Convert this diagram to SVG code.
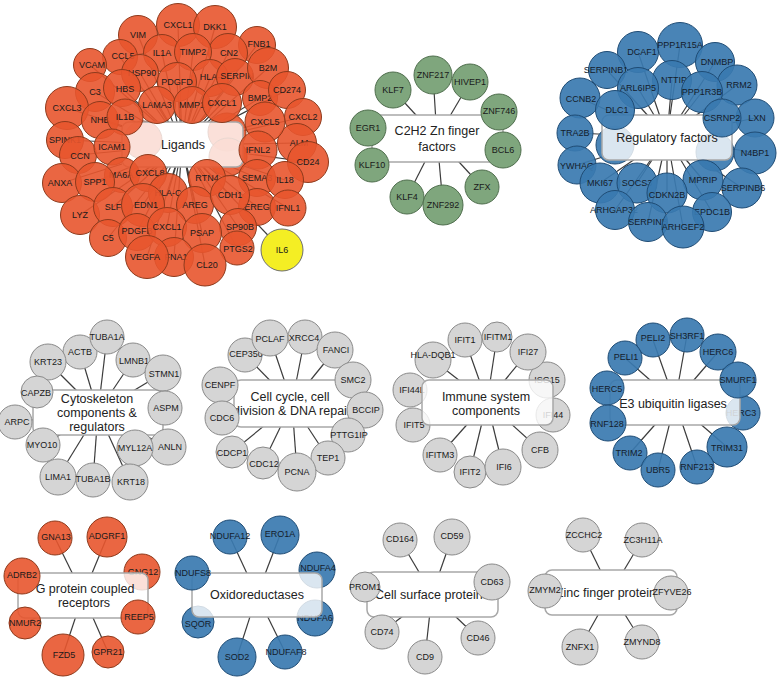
<svg xmlns="http://www.w3.org/2000/svg" width="783" height="681" viewBox="0 0 783 681">
<style>
text{font-family:"Liberation Sans",Arial,sans-serif;text-anchor:middle;dominant-baseline:central;fill:#1a1a1a;font-size:9px}
.o circle{fill:#E8552D;fill-opacity:.9;stroke:#8E3A1C;stroke-width:1}
.g circle{fill:#7FA67D;stroke:#4F6E4D;stroke-width:1}
.b circle{fill:#3A79B0;fill-opacity:.92;stroke:#1F4C75;stroke-width:1}
.b text{fill:#14202c}
.w circle{fill:#D5D5D5;stroke:#8A8A8A;stroke-width:1}
.y circle{fill:#F4EE24;stroke:#6f6f6f;stroke-width:1}
.hub rect{fill:#fff;fill-opacity:.8;stroke:#a8a8a8;stroke-width:1.5}
.hub text{font-size:12.5px;fill:#222}
#edges line{stroke:#3c3c3c;stroke-width:1.2}
</style>
<defs>
<mask id="hm" maskUnits="userSpaceOnUse" x="0" y="0" width="783" height="681">
<rect x="0" y="0" width="783" height="681" fill="#fff"/>
<rect x="122" y="122" width="121" height="45" fill="#000"/>
<rect x="372" y="115" width="131" height="47" fill="#000"/>
<rect x="602" y="115" width="130" height="45" fill="#000"/>
<rect x="33" y="390" width="130" height="45" fill="#000"/>
<rect x="234" y="380" width="120" height="47" fill="#000"/>
<rect x="422" y="380" width="131" height="45" fill="#000"/>
<rect x="610" y="380" width="130" height="45" fill="#000"/>
<rect x="18" y="573" width="130" height="45" fill="#000"/>
<rect x="192" y="573" width="130" height="44" fill="#000"/>
<rect x="367" y="572" width="131" height="45" fill="#000"/>
<rect x="545" y="570" width="132" height="45" fill="#000"/>
</mask>
</defs>
<rect width="783" height="681" fill="#fff"/>
<g id="edges" mask="url(#hm)">
<line x1="182" y1="145" x2="138" y2="35"/><line x1="182" y1="145" x2="178" y2="25"/><line x1="182" y1="145" x2="215" y2="27"/><line x1="182" y1="145" x2="120" y2="57"/><line x1="182" y1="145" x2="162" y2="53"/><line x1="182" y1="145" x2="193" y2="52"/><line x1="182" y1="145" x2="228" y2="53"/><line x1="182" y1="145" x2="257" y2="45"/><line x1="182" y1="145" x2="90" y2="65"/><line x1="182" y1="145" x2="140" y2="73"/><line x1="182" y1="145" x2="177" y2="82"/><line x1="182" y1="145" x2="210" y2="78"/><line x1="182" y1="145" x2="235" y2="77"/><line x1="182" y1="145" x2="268" y2="68"/><line x1="182" y1="145" x2="95" y2="92"/><line x1="182" y1="145" x2="122" y2="88"/><line x1="182" y1="145" x2="157" y2="105"/><line x1="182" y1="145" x2="192" y2="105"/><line x1="182" y1="145" x2="222" y2="103"/><line x1="182" y1="145" x2="260" y2="98"/><line x1="182" y1="145" x2="287" y2="90"/><line x1="182" y1="145" x2="303" y2="117"/><line x1="182" y1="145" x2="265" y2="122"/><line x1="182" y1="145" x2="67" y2="108"/><line x1="182" y1="145" x2="100" y2="120"/><line x1="182" y1="145" x2="125" y2="117"/><line x1="182" y1="145" x2="297" y2="143"/><line x1="182" y1="145" x2="258" y2="150"/><line x1="182" y1="145" x2="308" y2="162"/><line x1="182" y1="145" x2="65" y2="140"/><line x1="182" y1="145" x2="112" y2="147"/><line x1="182" y1="145" x2="78" y2="155"/><line x1="182" y1="145" x2="62" y2="183"/><line x1="182" y1="145" x2="95" y2="182"/><line x1="182" y1="145" x2="122" y2="175"/><line x1="182" y1="145" x2="147" y2="173"/><line x1="182" y1="145" x2="168" y2="193"/><line x1="182" y1="145" x2="207" y2="178"/><line x1="182" y1="145" x2="257" y2="178"/><line x1="182" y1="145" x2="285" y2="180"/><line x1="182" y1="145" x2="80" y2="215"/><line x1="182" y1="145" x2="113" y2="207"/><line x1="182" y1="145" x2="143" y2="205"/><line x1="182" y1="145" x2="230" y2="195"/><line x1="182" y1="145" x2="195" y2="205"/><line x1="182" y1="145" x2="257" y2="207"/><line x1="182" y1="145" x2="288" y2="208"/><line x1="182" y1="145" x2="108" y2="238"/><line x1="182" y1="145" x2="137" y2="232"/><line x1="182" y1="145" x2="167" y2="227"/><line x1="182" y1="145" x2="202" y2="233"/><line x1="182" y1="145" x2="238" y2="227"/><line x1="182" y1="145" x2="147" y2="257"/><line x1="182" y1="145" x2="174" y2="257"/><line x1="182" y1="145" x2="205" y2="265"/><line x1="182" y1="145" x2="237" y2="248"/><line x1="182" y1="145" x2="282" y2="250"/>
<line x1="437" y1="138" x2="393" y2="90"/><line x1="437" y1="138" x2="433" y2="75"/><line x1="437" y1="138" x2="470" y2="82"/><line x1="437" y1="138" x2="499" y2="112"/><line x1="437" y1="138" x2="503" y2="150"/><line x1="437" y1="138" x2="482" y2="187"/><line x1="437" y1="138" x2="443" y2="205"/><line x1="437" y1="138" x2="407" y2="197"/><line x1="437" y1="138" x2="372" y2="165"/><line x1="437" y1="138" x2="368" y2="128"/>
<line x1="667" y1="137" x2="638" y2="52"/><line x1="667" y1="137" x2="680" y2="45"/><line x1="667" y1="137" x2="715" y2="62"/><line x1="667" y1="137" x2="607" y2="70"/><line x1="667" y1="137" x2="638" y2="88"/><line x1="667" y1="137" x2="672" y2="80"/><line x1="667" y1="137" x2="702" y2="92"/><line x1="667" y1="137" x2="737" y2="85"/><line x1="667" y1="137" x2="580" y2="98"/><line x1="667" y1="137" x2="615" y2="110"/><line x1="667" y1="137" x2="722" y2="118"/><line x1="667" y1="137" x2="755" y2="118"/><line x1="667" y1="137" x2="575" y2="133"/><line x1="667" y1="137" x2="755" y2="153"/><line x1="667" y1="137" x2="577" y2="165"/><line x1="667" y1="137" x2="600" y2="183"/><line x1="667" y1="137" x2="637" y2="183"/><line x1="667" y1="137" x2="667" y2="193"/><line x1="667" y1="137" x2="703" y2="180"/><line x1="667" y1="137" x2="742" y2="188"/><line x1="667" y1="137" x2="615" y2="210"/><line x1="667" y1="137" x2="712" y2="212"/><line x1="667" y1="137" x2="648" y2="222"/><line x1="667" y1="137" x2="683" y2="227"/>
<line x1="98" y1="412" x2="107" y2="337"/><line x1="98" y1="412" x2="80" y2="352"/><line x1="98" y1="412" x2="133" y2="360"/><line x1="98" y1="412" x2="48" y2="362"/><line x1="98" y1="412" x2="163" y2="373"/><line x1="98" y1="412" x2="37" y2="392"/><line x1="98" y1="412" x2="165" y2="408"/><line x1="98" y1="412" x2="15" y2="422"/><line x1="98" y1="412" x2="43" y2="445"/><line x1="98" y1="412" x2="135" y2="448"/><line x1="98" y1="412" x2="168" y2="447"/><line x1="98" y1="412" x2="58" y2="477"/><line x1="98" y1="412" x2="93" y2="480"/><line x1="98" y1="412" x2="130" y2="482"/>
<line x1="292" y1="403" x2="270" y2="338"/><line x1="292" y1="403" x2="305" y2="337"/><line x1="292" y1="403" x2="335" y2="350"/><line x1="292" y1="403" x2="245" y2="355"/><line x1="292" y1="403" x2="353" y2="380"/><line x1="292" y1="403" x2="220" y2="385"/><line x1="292" y1="403" x2="365" y2="410"/><line x1="292" y1="403" x2="222" y2="418"/><line x1="292" y1="403" x2="348" y2="435"/><line x1="292" y1="403" x2="232" y2="452"/><line x1="292" y1="403" x2="328" y2="458"/><line x1="292" y1="403" x2="263" y2="463"/><line x1="292" y1="403" x2="297" y2="472"/>
<line x1="487" y1="402" x2="465" y2="340"/><line x1="487" y1="402" x2="497" y2="337"/><line x1="487" y1="402" x2="528" y2="352"/><line x1="487" y1="402" x2="433" y2="360"/><line x1="487" y1="402" x2="547" y2="380"/><line x1="487" y1="402" x2="410" y2="390"/><line x1="487" y1="402" x2="553" y2="415"/><line x1="487" y1="402" x2="413" y2="425"/><line x1="487" y1="402" x2="540" y2="450"/><line x1="487" y1="402" x2="440" y2="455"/><line x1="487" y1="402" x2="503" y2="467"/><line x1="487" y1="402" x2="470" y2="472"/>
<line x1="675" y1="402" x2="653" y2="340"/><line x1="675" y1="402" x2="687" y2="335"/><line x1="675" y1="402" x2="718" y2="352"/><line x1="675" y1="402" x2="625" y2="358"/><line x1="675" y1="402" x2="738" y2="380"/><line x1="675" y1="402" x2="607" y2="388"/><line x1="675" y1="402" x2="743" y2="413"/><line x1="675" y1="402" x2="608" y2="423"/><line x1="675" y1="402" x2="727" y2="447"/><line x1="675" y1="402" x2="630" y2="453"/><line x1="675" y1="402" x2="658" y2="470"/><line x1="675" y1="402" x2="697" y2="467"/>
<line x1="83" y1="595" x2="55" y2="538"/><line x1="83" y1="595" x2="107" y2="537"/><line x1="83" y1="595" x2="22" y2="576"/><line x1="83" y1="595" x2="142" y2="572"/><line x1="83" y1="595" x2="25" y2="623"/><line x1="83" y1="595" x2="138" y2="617"/><line x1="83" y1="595" x2="63" y2="655"/><line x1="83" y1="595" x2="108" y2="652"/>
<line x1="257" y1="595" x2="230" y2="537"/><line x1="257" y1="595" x2="280" y2="535"/><line x1="257" y1="595" x2="192" y2="573"/><line x1="257" y1="595" x2="317" y2="570"/><line x1="257" y1="595" x2="198" y2="622"/><line x1="257" y1="595" x2="315" y2="618"/><line x1="257" y1="595" x2="237" y2="657"/><line x1="257" y1="595" x2="285" y2="652"/>
<line x1="432" y1="594" x2="400" y2="540"/><line x1="432" y1="594" x2="452" y2="537"/><line x1="432" y1="594" x2="365" y2="587"/><line x1="432" y1="594" x2="492" y2="582"/><line x1="432" y1="594" x2="382" y2="632"/><line x1="432" y1="594" x2="478" y2="638"/><line x1="432" y1="594" x2="425" y2="657"/>
<line x1="611" y1="592" x2="583" y2="535"/><line x1="611" y1="592" x2="642" y2="540"/><line x1="611" y1="592" x2="544" y2="591"/><line x1="611" y1="592" x2="670" y2="593"/><line x1="611" y1="592" x2="580" y2="647"/><line x1="611" y1="592" x2="642" y2="642"/>
</g>

<g id="n-lig-h1" class="o"><circle cx="143" cy="140" r="19"/></g>
<g id="n-lig-h2" class="o"><circle cx="227" cy="132" r="19"/></g>
<g id="n-lig-h3" class="o"><circle cx="228" cy="157" r="19"/></g>
<g id="n-reg-h1" class="b"><circle cx="615" cy="145" r="19"/></g>
<g id="n-reg-h2" class="b"><circle cx="715" cy="152" r="19"/></g>
<g id="n-ISG15" class="w"><circle cx="547" cy="380" r="18"/><text x="547" y="380" font-size="10">ISG15</text></g>
<g id="n-IFI44L" class="w"><circle cx="410" cy="390" r="17"/><text x="412" y="390" font-size="10">IFI44L</text></g>
<g id="n-IFI44" class="w"><circle cx="553" cy="415" r="17"/><text x="553" y="415" font-size="10">IFI44</text></g>
<g id="n-IFIT5" class="w"><circle cx="413" cy="425" r="17"/><text x="414" y="425" font-size="10">IFIT5</text></g>
<g id="n-HERC3" class="b"><circle cx="743" cy="413" r="17"/><text x="741" y="413" font-size="10">HERC3</text></g>
<g id="n-GNG12" class="o"><circle cx="142" cy="572" r="18"/><text x="143" y="572" font-size="10">GNG12</text></g>
<g id="n-NDUFA4" class="b"><circle cx="317" cy="570" r="18"/><text x="318" y="568" font-size="10">NDUFA4</text></g>
<g id="n-NDUFA6" class="b"><circle cx="315" cy="618" r="18"/><text x="315" y="618" font-size="9.5">NDUFA6</text></g>
<g id="n-SQOR" class="b"><circle cx="198" cy="622" r="16"/><text x="198" y="624" font-size="8.5">SQOR</text></g>

<g id="hub-ligands" class="hub"><rect x="122" y="122" width="121" height="45" rx="7"/><text x="183" y="145">Ligands</text></g>
<g id="hub-c2h2" class="hub"><rect x="372" y="115" width="131" height="47" rx="7"/><text x="437" y="131">C2H2 Zn finger</text><text x="437" y="147">factors</text></g>
<g id="hub-regulatory" class="hub"><rect x="602" y="115" width="130" height="45" rx="7"/><text x="667" y="138">Regulatory factors</text></g>
<g id="hub-cytoskeleton" class="hub"><rect x="33" y="390" width="130" height="45" rx="7"/><text x="97" y="399">Cytoskeleton</text><text x="97" y="413">components &amp;</text><text x="97" y="427">regulators</text></g>
<g id="hub-cellcycle" class="hub"><rect x="234" y="380" width="120" height="47" rx="7"/><text x="290" y="397">Cell cycle, cell</text><text x="292" y="411">division &amp; DNA repair</text></g>
<g id="hub-immune" class="hub"><rect x="422" y="380" width="131" height="45" rx="7"/><text x="486" y="397">Immune system</text><text x="486" y="411">components</text></g>
<g id="hub-e3" class="hub"><rect x="610" y="380" width="130" height="45" rx="7"/><text x="673" y="404">E3 ubiquitin ligases</text></g>
<g id="hub-gpcr" class="hub"><rect x="18" y="573" width="130" height="45" rx="7"/><text x="85" y="589">G protein coupled</text><text x="84" y="603">receptors</text></g>
<g id="hub-oxido" class="hub"><rect x="192" y="573" width="130" height="44" rx="7"/><text x="257" y="595">Oxidoreductases</text></g>
<g id="hub-surface" class="hub"><rect x="367" y="572" width="131" height="45" rx="7"/><text x="432" y="595">Cell surface proteins</text></g>
<g id="hub-zinc" class="hub"><rect x="545" y="570" width="132" height="45" rx="7"/><text x="609" y="593" font-size="12px">Zinc finger proteins</text></g>

<g id="n-VIM" class="o"><circle cx="138" cy="35" r="19.5"/><text x="138" y="35" font-size="10">VIM</text></g>
<g id="n-CXCL1a" class="o"><circle cx="178" cy="25" r="21.5"/><text x="178" y="25" font-size="10">CXCL1</text></g>
<g id="n-DKK1" class="o"><circle cx="215" cy="27" r="21.5"/><text x="215" y="27" font-size="10">DKK1</text></g>
<g id="n-FNB1" class="o"><circle cx="257" cy="45" r="18.5"/><text x="259" y="44" font-size="8.5">FNB1</text></g>
<g id="n-CCL5" class="o"><circle cx="120" cy="57" r="17.5"/><text x="123" y="56" font-size="8.5">CCL5</text></g>
<g id="n-VCAM" class="o"><circle cx="90" cy="65" r="16.5"/><text x="92" y="65" font-size="8">VCAM</text></g>
<g id="n-IL1A" class="o"><circle cx="162" cy="53" r="18.5"/><text x="162" y="53" font-size="9">IL1A</text></g>
<g id="n-CN2" class="o"><circle cx="228" cy="53" r="19.5"/><text x="229" y="53" font-size="9.5">CN2</text></g>
<g id="n-TIMP2" class="o"><circle cx="193" cy="52" r="18.5"/><text x="193" y="52" font-size="9">TIMP2</text></g>
<g id="n-HSP90" class="o"><circle cx="140" cy="73" r="18.5"/><text x="142" y="73" font-size="9">HSP90</text></g>
<g id="n-HLA" class="o"><circle cx="210" cy="78" r="18.5"/><text x="210" y="77" font-size="9.5">HLA-</text></g>
<g id="n-SERPIN" class="o"><circle cx="235" cy="77" r="18.5"/><text x="237" y="76" font-size="9.5">SERPIN</text></g>
<g id="n-B2M" class="o"><circle cx="268" cy="68" r="20.5"/><text x="268" y="68" font-size="10">B2M</text></g>
<g id="n-PDGFD" class="o"><circle cx="177" cy="82" r="19.5"/><text x="177" y="82" font-size="10">PDGFD</text></g>
<g id="n-C3" class="o"><circle cx="95" cy="92" r="19.5"/><text x="95" y="92" font-size="10">C3</text></g>
<g id="n-HBS" class="o"><circle cx="122" cy="88" r="18.5"/><text x="125" y="89" font-size="9.5">HBS</text></g>
<g id="n-LAMA3" class="o"><circle cx="157" cy="105" r="18.5"/><text x="157" y="105" font-size="9">LAMA3</text></g>
<g id="n-MMP1" class="o"><circle cx="192" cy="105" r="18.5"/><text x="192" y="105" font-size="9">MMP1</text></g>
<g id="n-CXCL1b" class="o"><circle cx="222" cy="103" r="19.5"/><text x="222" y="103" font-size="10">CXCL1</text></g>
<g id="n-BMP2" class="o"><circle cx="260" cy="98" r="17.5"/><text x="260" y="98" font-size="8.5">BMP2</text></g>
<g id="n-CD274" class="o"><circle cx="287" cy="90" r="18.5"/><text x="287" y="90" font-size="8.5">CD274</text></g>
<g id="n-CXCL2" class="o"><circle cx="303" cy="117" r="18.5"/><text x="303" y="117" font-size="9.5">CXCL2</text></g>
<g id="n-CXCL3" class="o"><circle cx="67" cy="108" r="21.5"/><text x="67" y="108" font-size="10">CXCL3</text></g>
<g id="n-NHB" class="o"><circle cx="100" cy="120" r="18.5"/><text x="100" y="120" font-size="9.5">NHB</text></g>
<g id="n-IL1B" class="o"><circle cx="125" cy="117" r="18"/><text x="125" y="117" font-size="9">IL1B</text></g>
<g id="n-ALM" class="o"><circle cx="297" cy="143" r="19.5"/><text x="299" y="143" font-size="9.5">ALM</text></g>
<g id="n-CXCL5" class="o"><circle cx="265" cy="122" r="20"/><text x="265" y="122" font-size="10">CXCL5</text></g>
<g id="n-CD24" class="o"><circle cx="308" cy="162" r="20.5"/><text x="308" y="162" font-size="10">CD24</text></g>
<g id="n-IFNL2" class="o"><circle cx="258" cy="150" r="19"/><text x="258" y="150" font-size="10">IFNL2</text></g>
<g id="n-SPINK1" class="o"><circle cx="65" cy="140" r="18.5"/><text x="65" y="140" font-size="8">SPINK1</text></g>
<g id="n-CCN" class="o"><circle cx="78" cy="155" r="18.5"/><text x="80" y="156" font-size="9.5">CCN</text></g>
<g id="n-ICAM1" class="o"><circle cx="112" cy="147" r="18"/><text x="112" y="147" font-size="9">ICAM1</text></g>
<g id="n-ANXA" class="o"><circle cx="62" cy="183" r="19.5"/><text x="60" y="183" font-size="10">ANXA</text></g>
<g id="n-MA6A" class="o"><circle cx="122" cy="175" r="17.5"/><text x="121" y="175" font-size="8">MA6A</text></g>
<g id="n-CXCL8" class="o"><circle cx="148" cy="173" r="18.5"/><text x="150" y="173" font-size="9">CXCL8</text></g>
<g id="n-SPP1" class="o"><circle cx="95" cy="182" r="19.5"/><text x="95" y="182" font-size="9.5">SPP1</text></g>
<g id="n-HLA-C" class="o"><circle cx="168" cy="193" r="19.5"/><text x="168" y="193" font-size="9">HLA-C</text></g>
<g id="n-RTN4" class="o"><circle cx="207" cy="178" r="18.5"/><text x="207" y="178" font-size="9">RTN4</text></g>
<g id="n-SEMA3" class="o"><circle cx="257" cy="178" r="18.5"/><text x="257" y="178" font-size="8.5">SEMA3</text></g>
<g id="n-IL18" class="o"><circle cx="285" cy="180" r="18.5"/><text x="285" y="180" font-size="9">IL18</text></g>
<g id="n-AREG" class="o"><circle cx="195" cy="205" r="18.5"/><text x="195" y="205" font-size="9">AREG</text></g>
<g id="n-EREG" class="o"><circle cx="257" cy="207" r="18.5"/><text x="257" y="207" font-size="8.5">EREG</text></g>
<g id="n-IFNL1" class="o"><circle cx="288" cy="208" r="18"/><text x="288" y="208" font-size="8">IFNL1</text></g>
<g id="n-CDH1" class="o"><circle cx="230" cy="195" r="19.5"/><text x="230" y="195" font-size="9.5">CDH1</text></g>
<g id="n-LYZ" class="o"><circle cx="80" cy="215" r="19.5"/><text x="80" y="215" font-size="10">LYZ</text></g>
<g id="n-SLF" class="o"><circle cx="113" cy="207" r="19.5"/><text x="113" y="207" font-size="10">SLF</text></g>
<g id="n-EDN1" class="o"><circle cx="143" cy="205" r="21.5"/><text x="146" y="205" font-size="10.5">EDN1</text></g>
<g id="n-C5" class="o"><circle cx="108" cy="238" r="18.5"/><text x="108" y="238" font-size="9.5">C5</text></g>
<g id="n-PDGFB" class="o"><circle cx="137" cy="232" r="18.5"/><text x="137" y="231" font-size="9">PDGFB</text></g>
<g id="n-CXCL1c" class="o"><circle cx="167" cy="227" r="19.5"/><text x="167" y="227" font-size="9">CXCL1</text></g>
<g id="n-SP90B" class="o"><circle cx="238" cy="227" r="18.5"/><text x="240" y="227" font-size="8.5">SP90B</text></g>
<g id="n-PSAP" class="o"><circle cx="202" cy="233" r="19.5"/><text x="202" y="233" font-size="9.5">PSAP</text></g>
<g id="n-PTGS2" class="o"><circle cx="237" cy="248" r="17"/><text x="238" y="249" font-size="8">PTGS2</text></g>
<g id="n-FNA1" class="o"><circle cx="174" cy="257" r="19.5"/><text x="176" y="257" font-size="9.5">FNA1</text></g>
<g id="n-VEGFA" class="o"><circle cx="147" cy="257" r="21.5"/><text x="145" y="257" font-size="10">VEGFA</text></g>
<g id="n-CL20" class="o"><circle cx="205" cy="265" r="21"/><text x="207" y="265" font-size="10">CL20</text></g>
<g id="n-IL6" class="y"><circle cx="282" cy="250" r="21"/><text x="282" y="250" font-size="10">IL6</text></g>

<g id="n-KLF7" class="g"><circle cx="393" cy="90" r="18"/><text x="393" y="90" font-size="9.5">KLF7</text></g>
<g id="n-ZNF217" class="g"><circle cx="433" cy="75" r="19"/><text x="433" y="75" font-size="9.5">ZNF217</text></g>
<g id="n-HIVEP1" class="g"><circle cx="470" cy="82" r="18"/><text x="470" y="82" font-size="9">HIVEP1</text></g>
<g id="n-ZNF746" class="g"><circle cx="499" cy="112" r="18"/><text x="499" y="111" font-size="9.5">ZNF746</text></g>
<g id="n-BCL6" class="g"><circle cx="503" cy="150" r="18"/><text x="503" y="150" font-size="9.5">BCL6</text></g>
<g id="n-ZFX" class="g"><circle cx="482" cy="187" r="17"/><text x="482" y="187" font-size="9.5">ZFX</text></g>
<g id="n-KLF4" class="g"><circle cx="407" cy="197" r="17"/><text x="407" y="197" font-size="9">KLF4</text></g>
<g id="n-ZNF292" class="g"><circle cx="443" cy="205" r="20"/><text x="443" y="205" font-size="10.5">ZNF292</text></g>
<g id="n-KLF10" class="g"><circle cx="372" cy="165" r="17"/><text x="372" y="165" font-size="9.5">KLF10</text></g>
<g id="n-EGR1" class="g"><circle cx="368" cy="128" r="18"/><text x="368" y="128" font-size="9.5">EGR1</text></g>

<g id="n-DCAF1" class="b"><circle cx="638" cy="52" r="20.5"/><text x="642" y="52" font-size="11">DCAF1</text></g>
<g id="n-PPP1R15A" class="b"><circle cx="680" cy="45" r="22.5"/><text x="680" y="45" font-size="10.5">PPP1R15A</text></g>
<g id="n-DNMBP" class="b"><circle cx="715" cy="62" r="19.5"/><text x="717" y="62" font-size="9">DNMBP</text></g>
<g id="n-SERPINB1" class="b"><circle cx="607" cy="70" r="18.5"/><text x="606" y="70" font-size="8">SERPINB1</text></g>
<g id="n-NTTIP" class="b"><circle cx="672" cy="80" r="19.5"/><text x="674" y="80" font-size="9.5">NTTIP</text></g>
<g id="n-ARL6IP5" class="b"><circle cx="638" cy="88" r="20.5"/><text x="638" y="88" font-size="10">ARL6IP5</text></g>
<g id="n-RRM2" class="b"><circle cx="737" cy="85" r="20"/><text x="739" y="85" font-size="10">RRM2</text></g>
<g id="n-PPP1R3B" class="b"><circle cx="702" cy="92" r="20.5"/><text x="702" y="92" font-size="10">PPP1R3B</text></g>
<g id="n-CCNB2" class="b"><circle cx="580" cy="98" r="20"/><text x="581" y="99" font-size="10">CCNB2</text></g>
<g id="n-DLC1" class="b"><circle cx="615" cy="110" r="19.5"/><text x="617" y="110" font-size="9.5">DLC1</text></g>
<g id="n-LXN" class="b"><circle cx="755" cy="118" r="19"/><text x="757" y="118" font-size="10">LXN</text></g>
<g id="n-CSRNP2" class="b"><circle cx="722" cy="118" r="19"/><text x="722" y="118" font-size="9">CSRNP2</text></g>
<g id="n-TRA2B" class="b"><circle cx="575" cy="133" r="18"/><text x="575" y="133" font-size="9">TRA2B</text></g>
<g id="n-N4BP1" class="b"><circle cx="755" cy="153" r="21"/><text x="755" y="153" font-size="11">N4BP1</text></g>
<g id="n-YWHAQ" class="b"><circle cx="577" cy="165" r="19"/><text x="577" y="166" font-size="9">YWHAQ</text></g>
<g id="n-MKI67" class="b"><circle cx="600" cy="183" r="20"/><text x="600" y="183" font-size="10">MKI67</text></g>
<g id="n-SOCS3" class="b"><circle cx="637" cy="183" r="20"/><text x="637" y="183" font-size="10">SOCS3</text></g>
<g id="n-SERPINB6" class="b"><circle cx="742" cy="188" r="20"/><text x="743" y="188" font-size="9.5">SERPINB6</text></g>
<g id="n-MPRIP" class="b"><circle cx="703" cy="180" r="20"/><text x="703" y="180" font-size="10">MPRIP</text></g>
<g id="n-CDKN2B" class="b"><circle cx="667" cy="193" r="20"/><text x="667" y="195" font-size="10">CDKN2B</text></g>
<g id="n-ARHGAP32" class="b"><circle cx="615" cy="210" r="19.5"/><text x="614" y="210" font-size="8.5">ARHGAP32</text></g>
<g id="n-EPDC1B" class="b"><circle cx="712" cy="212" r="19.5"/><text x="712" y="212" font-size="9.5">EPDC1B</text></g>
<g id="n-SERPINB" class="b"><circle cx="648" cy="222" r="19.5"/><text x="648" y="222" font-size="8.5">SERPINB</text></g>
<g id="n-ARHGEF2" class="b"><circle cx="683" cy="227" r="21"/><text x="683" y="227" font-size="10">ARHGEF2</text></g>

<g id="n-ACTB" class="w"><circle cx="80" cy="352" r="17"/><text x="80" y="352" font-size="8.5">ACTB</text></g>
<g id="n-LMNB1" class="w"><circle cx="133" cy="360" r="17"/><text x="134" y="361" font-size="9">LMNB1</text></g>
<g id="n-TUBA1A" class="w"><circle cx="107" cy="337" r="17"/><text x="107" y="337" font-size="9.5">TUBA1A</text></g>
<g id="n-KRT23" class="w"><circle cx="48" cy="362" r="18"/><text x="48" y="362" font-size="11.5">KRT23</text></g>
<g id="n-STMN1" class="w"><circle cx="163" cy="373" r="18"/><text x="164" y="374" font-size="10">STMN1</text></g>
<g id="n-CAPZB" class="w"><circle cx="37" cy="392" r="16"/><text x="36" y="393" font-size="8.5">CAPZB</text></g>
<g id="n-ASPM" class="w"><circle cx="165" cy="408" r="17"/><text x="166" y="408" font-size="8.5">ASPM</text></g>
<g id="n-ARPC" class="w"><circle cx="15" cy="422" r="17"/><text x="17" y="422" font-size="8.5">ARPC</text></g>
<g id="n-MYO10" class="w"><circle cx="43" cy="445" r="17"/><text x="42" y="445" font-size="9">MYO10</text></g>
<g id="n-ANLN" class="w"><circle cx="168" cy="447" r="18"/><text x="170" y="447" font-size="10">ANLN</text></g>
<g id="n-MYL12A" class="w"><circle cx="135" cy="448" r="18"/><text x="135" y="448" font-size="10">MYL12A</text></g>
<g id="n-LIMA1" class="w"><circle cx="58" cy="477" r="18"/><text x="58" y="477" font-size="10">LIMA1</text></g>
<g id="n-TUBA1B" class="w"><circle cx="93" cy="480" r="17"/><text x="93" y="479" font-size="9">TUBA1B</text></g>
<g id="n-KRT18" class="w"><circle cx="130" cy="482" r="18"/><text x="131" y="482" font-size="10.5">KRT18</text></g>

<g id="n-CEP350" class="w"><circle cx="245" cy="355" r="17"/><text x="246" y="354" font-size="9">CEP350</text></g>
<g id="n-PCLAF" class="w"><circle cx="270" cy="338" r="18"/><text x="270" y="339" font-size="10.5">PCLAF</text></g>
<g id="n-XRCC4" class="w"><circle cx="305" cy="337" r="17"/><text x="304" y="338" font-size="9">XRCC4</text></g>
<g id="n-FANCI" class="w"><circle cx="335" cy="350" r="18"/><text x="336" y="350" font-size="10">FANCI</text></g>
<g id="n-SMC2" class="w"><circle cx="353" cy="380" r="18"/><text x="353" y="380" font-size="10">SMC2</text></g>
<g id="n-CENPF" class="w"><circle cx="220" cy="385" r="18"/><text x="220" y="385" font-size="9.5">CENPF</text></g>
<g id="n-BCCIP" class="w"><circle cx="365" cy="410" r="18"/><text x="366" y="410" font-size="10">BCCIP</text></g>
<g id="n-CDC6" class="w"><circle cx="222" cy="418" r="17"/><text x="222" y="418" font-size="9.5">CDC6</text></g>
<g id="n-PTTG1IP" class="w"><circle cx="348" cy="435" r="17"/><text x="349" y="435" font-size="9.5">PTTG1IP</text></g>
<g id="n-CDCP1" class="w"><circle cx="232" cy="452" r="16"/><text x="232" y="453" font-size="8.5">CDCP1</text></g>
<g id="n-TEP1" class="w"><circle cx="328" cy="458" r="17"/><text x="328" y="458" font-size="9">TEP1</text></g>
<g id="n-CDC12" class="w"><circle cx="263" cy="463" r="16"/><text x="264" y="464" font-size="9.5">CDC12</text></g>
<g id="n-PCNA" class="w"><circle cx="297" cy="472" r="19"/><text x="297" y="472" font-size="11">PCNA</text></g>

<g id="n-IFIT1" class="w"><circle cx="465" cy="340" r="17"/><text x="465" y="340" font-size="9.5">IFIT1</text></g>
<g id="n-IFITM1" class="w"><circle cx="497" cy="337" r="15"/><text x="498" y="337" font-size="8">IFITM1</text></g>
<g id="n-HLA-DQB1" class="w"><circle cx="433" cy="360" r="18"/><text x="433" y="355" font-size="10">HLA-DQB1</text></g>
<g id="n-IFI27" class="w"><circle cx="528" cy="352" r="18"/><text x="528" y="352" font-size="10">IFI27</text></g>
<g id="n-CFB" class="w"><circle cx="540" cy="450" r="18"/><text x="540" y="450" font-size="10">CFB</text></g>
<g id="n-IFITM3" class="w"><circle cx="440" cy="455" r="17"/><text x="440" y="455" font-size="8.5">IFITM3</text></g>
<g id="n-IFIT2" class="w"><circle cx="470" cy="472" r="16"/><text x="470" y="472" font-size="9">IFIT2</text></g>
<g id="n-IFI6" class="w"><circle cx="503" cy="467" r="18"/><text x="504" y="467" font-size="11">IFI6</text></g>

<g id="n-PELI2" class="b"><circle cx="653" cy="340" r="17"/><text x="653" y="338" font-size="8.5">PELI2</text></g>
<g id="n-SH3RF1" class="b"><circle cx="687" cy="335" r="17"/><text x="687" y="336" font-size="9">SH3RF1</text></g>
<g id="n-HERC6" class="b"><circle cx="718" cy="352" r="18"/><text x="718" y="352" font-size="10">HERC6</text></g>
<g id="n-PELI1" class="b"><circle cx="625" cy="358" r="17"/><text x="626" y="357" font-size="8.5">PELI1</text></g>
<g id="n-SMURF1" class="b"><circle cx="738" cy="380" r="18"/><text x="738" y="380" font-size="10">SMURF1</text></g>
<g id="n-HERC5" class="b"><circle cx="607" cy="388" r="17"/><text x="607" y="389" font-size="9">HERC5</text></g>
<g id="n-RNF128" class="b"><circle cx="608" cy="423" r="18"/><text x="607" y="424" font-size="10">RNF128</text></g>
<g id="n-TRIM31" class="b"><circle cx="727" cy="447" r="20"/><text x="727" y="448" font-size="11">TRIM31</text></g>
<g id="n-TRIM2" class="b"><circle cx="630" cy="453" r="17"/><text x="629" y="453" font-size="9.5">TRIM2</text></g>
<g id="n-UBR5" class="b"><circle cx="658" cy="470" r="17"/><text x="658" y="470" font-size="8.5">UBR5</text></g>
<g id="n-RNF213" class="b"><circle cx="697" cy="467" r="17"/><text x="697" y="467" font-size="9.5">RNF213</text></g>

<g id="n-GNA13" class="o"><circle cx="55" cy="538" r="17"/><text x="56" y="537" font-size="9">GNA13</text></g>
<g id="n-ADGRF1" class="o"><circle cx="107" cy="537" r="20"/><text x="107" y="536" font-size="11">ADGRF1</text></g>
<g id="n-ADRB2" class="o"><circle cx="22" cy="576" r="18"/><text x="22" y="575" font-size="9">ADRB2</text></g>
<g id="n-NMUR2" class="o"><circle cx="25" cy="623" r="16"/><text x="25" y="623" font-size="9">NMUR2</text></g>
<g id="n-REEP5" class="o"><circle cx="138" cy="617" r="17"/><text x="139" y="617" font-size="9">REEP5</text></g>
<g id="n-FZD5" class="o"><circle cx="63" cy="655" r="21"/><text x="64" y="655" font-size="11.5">FZD5</text></g>
<g id="n-GPR21" class="o"><circle cx="108" cy="652" r="16"/><text x="108" y="652" font-size="8.5">GPR21</text></g>

<g id="n-NDUFA12" class="b"><circle cx="230" cy="537" r="17"/><text x="230" y="536" font-size="9">NDUFA12</text></g>
<g id="n-ERO1A" class="b"><circle cx="280" cy="535" r="19"/><text x="280" y="534" font-size="10.5">ERO1A</text></g>
<g id="n-NDUFS8" class="b"><circle cx="192" cy="573" r="17"/><text x="193" y="573" font-size="9">NDUFS8</text></g>
<g id="n-SOD2" class="b"><circle cx="237" cy="657" r="19"/><text x="237" y="657" font-size="11">SOD2</text></g>
<g id="n-NDUFAF8" class="b"><circle cx="285" cy="652" r="17"/><text x="286" y="652" font-size="8.5">NDUFAF8</text></g>

<g id="n-CD164" class="w"><circle cx="400" cy="540" r="17"/><text x="400" y="539" font-size="9">CD164</text></g>
<g id="n-CD59" class="w"><circle cx="452" cy="537" r="18"/><text x="452" y="536" font-size="10">CD59</text></g>
<g id="n-PROM1" class="w"><circle cx="365" cy="587" r="15"/><text x="365" y="587" font-size="8">PROM1</text></g>
<g id="n-CD63" class="w"><circle cx="492" cy="582" r="18"/><text x="492" y="582" font-size="11">CD63</text></g>
<g id="n-CD74" class="w"><circle cx="382" cy="632" r="17"/><text x="382" y="632" font-size="10">CD74</text></g>
<g id="n-CD46" class="w"><circle cx="478" cy="638" r="17"/><text x="478" y="638" font-size="10">CD46</text></g>
<g id="n-CD9" class="w"><circle cx="425" cy="657" r="17"/><text x="425" y="657" font-size="10">CD9</text></g>

<g id="n-ZCCHC2" class="w"><circle cx="583" cy="535" r="17"/><text x="584" y="535" font-size="8.5">ZCCHC2</text></g>
<g id="n-ZC3H11A" class="w"><circle cx="642" cy="540" r="17"/><text x="643" y="540" font-size="9">ZC3H11A</text></g>
<g id="n-ZMYM2" class="w"><circle cx="545" cy="591" r="17"/><text x="545" y="590" font-size="9">ZMYM2</text></g>
<g id="n-ZFYVE26" class="w"><circle cx="671" cy="593" r="17"/><text x="672" y="592" font-size="8.5">ZFYVE26</text></g>
<g id="n-ZNFX1" class="w"><circle cx="580" cy="647" r="18"/><text x="580" y="647" font-size="10.5">ZNFX1</text></g>
<g id="n-ZMYND8" class="w"><circle cx="642" cy="642" r="17"/><text x="642" y="642" font-size="9">ZMYND8</text></g>
</svg>
